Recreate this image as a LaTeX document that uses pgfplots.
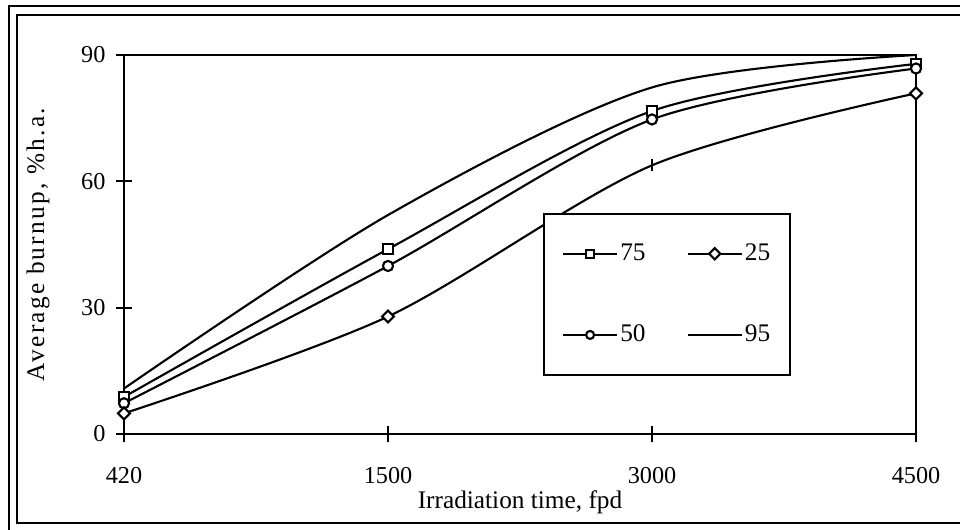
\documentclass[border=0pt]{standalone}
\usepackage{fontspec}
\setmainfont{Liberation Serif}
\usepackage{pgfplots}
\pgfplotsset{compat=1.18}

% burnup (%h.a.) at 420, 1500, 3000, 4500 fpd, plotted at 0..3
\pgfplotstableread{
x  p75   p25   p50   p95
0  8.8   4.9   7.3   10.8
1  43.9  27.9  39.9  52.0
2  76.7  63.8  74.7  82.3
3  87.9  80.9  86.8  90.0
}\burnup

\begin{document}
\begin{tikzpicture}
\useasboundingbox (0,0) rectangle (16cm,8.8167cm);
\begin{scope}
  \clip (0,0) rectangle (16cm,8.8167cm);
  \draw[line width=0.7pt] (0.15cm,-1cm) rectangle (17cm,8.7167cm);
  \draw[line width=1.2pt] (0.2833cm,0.1cm) rectangle (16.6cm,8.5667cm);
\end{scope}
\begin{axis}[
  at={(2.0667cm,1.5833cm)}, anchor=south west,
  scale only axis, width=13.2cm, height=6.3167cm,
  xmin=0, xmax=3, ymin=0, ymax=90,
  xtick={0,1,2,3}, xticklabels={420,1500,3000,4500},
  ytick={0,30,60,90},
  xtick pos=lower, ytick pos=left,
  tick align=center, major tick length=0.27cm,
  every tick/.style={black, line width=1pt},
  axis line style={line width=1.2pt},
  tick label style={font=\fontsize{11.5}{13}\selectfont},
  /pgf/number format/assume math mode=true,
  xticklabel style={yshift=-0.3cm},
  yticklabel style={xshift=-0.05cm},
  xlabel={Irradiation time, fpd},
  ylabel={\addfontfeatures{LetterSpace=9}Average burnup, \%h.a.},
  label style={font=\fontsize{12}{14}\selectfont},
  xlabel style={at={(axis description cs:0.5,-0.18)}, anchor=center},
  ylabel style={at={(axis description cs:-0.1086,0.5)}, anchor=center},
  legend columns=2,
  legend cell align=left,
  legend image code/.code={\draw[mark repeat=2,mark phase=2,#1,mark size=1.9pt]
    plot coordinates {(0cm,0cm) (0.45cm,0cm) (0.9cm,0cm)};},
  legend style={at={(0.529,0.583)}, anchor=north west, draw=black, line width=1pt,
    inner xsep=0.3cm, inner ysep=0.46cm, font=\fontsize{12}{14}\selectfont,
    row sep=0.95cm, nodes={inner sep=1pt},
    /tikz/every even column/.append style={column sep=0.65cm}},
  every axis plot/.append style={black, line width=1pt, smooth},
]
\addplot[mark=square*, mark size=2.4pt, mark options={fill=white}]
  table[x=x, y=p75] {\burnup};
\addlegendentry{75}
\addlegendimage{black, line width=1pt, mark=square*, mark options={fill=white, rotate=45}}
\addlegendentry{25}
\addplot[mark=*, mark size=2.4pt, mark options={fill=white}]
  table[x=x, y=p50] {\burnup};
\addlegendentry{50}
\addplot[no marks] table[x=x, y=p95] {\burnup};
\addlegendentry{95}
\addplot[forget plot, mark=square*, mark size=2.0pt, mark indices={1,2,4},
  mark options={fill=white, rotate=45}]
  table[x=x, y=p25] {\burnup};
\addplot[forget plot, only marks, mark=|, mark size=2.8pt, line width=1.2pt]
  table[x=x, y=p25, skip coords between index={0}{2}, skip coords between index={3}{4}] {\burnup};
\end{axis}
\end{tikzpicture}
\end{document}
